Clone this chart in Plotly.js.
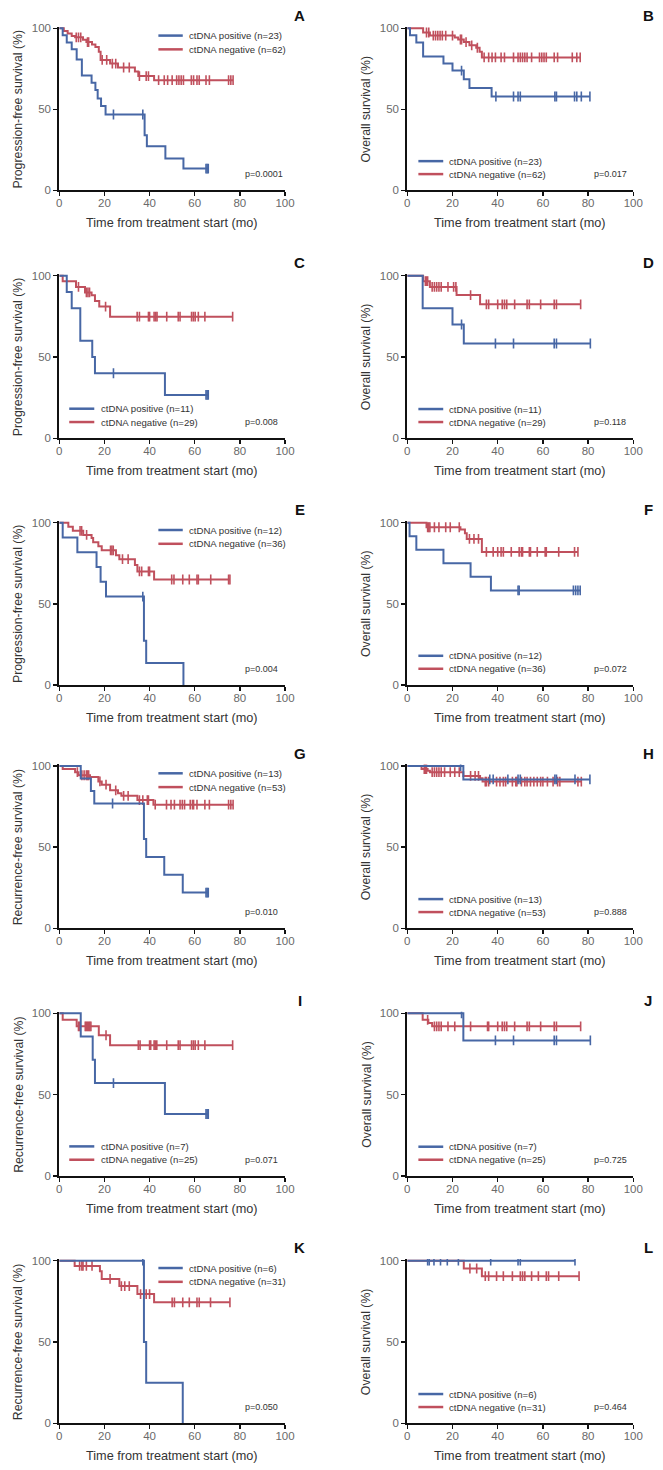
<!DOCTYPE html>
<html>
<head>
<meta charset="utf-8">
<script src="https://cdn.plot.ly/plotly-3.0.1.min.js"></script>
<style>html,body{margin:0;padding:0;background:#fff;}#chart{width:663px;height:1470px;}</style>
</head>
<body>
<div id="chart"></div>
<script>
// ---------- DATA (Kaplan-Meier step times, survival %, censor times) ----------
const panelLetters = ['A','B','C','D','E','F','G','H','I','J','K','L'];
const yTitles = ['Progression-free survival (%)','Overall survival (%)',
  'Progression-free survival (%)','Overall survival (%)',
  'Progression-free survival (%)','Overall survival (%)',
  'Recurrence-free survival (%)','Overall survival (%)',
  'Recurrence-free survival (%)','Overall survival (%)',
  'Recurrence-free survival (%)','Overall survival (%)'];
const xTitle = 'Time from treatment start (mo)';
const posLabels = ['ctDNA positive (n=23)','ctDNA positive (n=23)','ctDNA positive (n=11)','ctDNA positive (n=11)',
  'ctDNA positive (n=12)','ctDNA positive (n=12)','ctDNA positive (n=13)','ctDNA positive (n=13)',
  'ctDNA positive (n=7)','ctDNA positive (n=7)','ctDNA positive (n=6)','ctDNA positive (n=6)'];
const negLabels = ['ctDNA negative (n=62)','ctDNA negative (n=62)','ctDNA negative (n=29)','ctDNA negative (n=29)',
  'ctDNA negative (n=36)','ctDNA negative (n=36)','ctDNA negative (n=53)','ctDNA negative (n=53)',
  'ctDNA negative (n=25)','ctDNA negative (n=25)','ctDNA negative (n=31)','ctDNA negative (n=31)'];
const pValues = ['p=0.0001','p=0.017','p=0.008','p=0.118','p=0.004','p=0.072',
  'p=0.010','p=0.888','p=0.071','p=0.725','p=0.050','p=0.464'];
const xTicks = [0,20,40,60,80,100];
const yTicks = [0,50,100];

const A_pos_t = [0,1.5,3.3,5.5,7.7,10,14.3,16,17,18.5,20.5,37.8,38.8,47,55];
const A_pos_s = [100,95.7,91.3,87,80.8,70.8,66.4,61.9,56.7,52,46.8,34,27.2,19.6,13.4];
const A_pos_c = [24,37,65,65.5,66];
const A_neg_t = [0,2,3.7,5.5,7,10.5,12,14.5,16,17.5,18.3,22.5,26,33.5,35,42];
const A_neg_s = [100,98.4,96.8,95.2,94.4,93,91.5,90,88.5,85.5,80.5,78.2,75.8,73.4,70.5,68];
const A_neg_c = [7.5,8.5,9.5,12.5,13,19,21,23.5,25,28.5,31,35.5,38.5,39.5,44,46.5,48,50,52,53,54,55,58.5,59.5,61,62,65,66.5,75,76,77];

const B_pos_t = [0,1.2,4,7,16,20,25,27.5,37.3];
const B_pos_s = [100,95.7,91.3,82.6,78.3,73.9,68.5,63.2,57.9];
const B_pos_c = [24,39.2,47,49,50,65.3,66,74,75,77,80.8];
const B_neg_t = [0,7,10,21,22.5,25,27.5,30.5,32,33];
const B_neg_s = [100,97.4,95.5,94.3,93.1,91.5,89.5,88,85.5,82];
const B_neg_c = [8.5,9.5,11.5,12.5,13.5,14.5,15.5,17,20,23.5,24,26,28.5,31,34,36,37.5,39,41.5,43,47,49,50,51,52,53,55,58.5,59.5,60.5,61.5,65,66.5,73,75,76.5];

const C_pos_t = [0,3.3,5.5,9.3,14.6,15.8,46.8];
const C_pos_s = [100,90,80,60,50,40,26.7];
const C_pos_c = [24,65,65.5,66];
const C_neg_t = [0,1.5,7.4,11.4,14.3,15.8,17.7,22.5];
const C_neg_s = [100,96.6,93.1,89.7,88,84.5,81,74.8];
const C_neg_c = [8.5,12,12.7,13.4,20.5,34.5,35.5,39.5,40,42,42.7,43.3,47.6,52.7,53.5,58.6,59.4,60.2,61.6,64.5,76.8];

const D_pos_t = [0,6.8,20,25];
const D_pos_s = [100,80,70,58.3];
const D_pos_c = [24,39,47,65,66,81];
const D_neg_t = [0,7,10,21.8,32.2];
const D_neg_s = [100,96.6,93.1,88.1,82.4];
const D_neg_c = [8,8.5,9,11,12,13,14,15,18,20.5,21.5,28,35,36,40,42,43,44,47.5,53,54,59,65,66,76.7];

const E_pos_t = [0,1.5,8,16.5,18.3,20.7,37.5,38.5,55];
const E_pos_s = [100,90.9,81.8,72.7,63.6,54.5,27.3,13.6,0];
const E_pos_c = [37];
const E_neg_t = [0,4,6,10.6,14.3,15,17.3,18.8,25.1,26.6,33.5,34.6,42];
const E_neg_s = [100,97.5,95,92.5,90.5,88,85.5,83,80,77.5,74,70,65];
const E_neg_c = [9.2,9.9,12.1,22.7,23.3,23.9,28,30.5,35.5,36.5,39.5,40,49.8,50.8,54.7,57.6,61,61.6,67.1,75,75.6];

const F_pos_t = [0,1,4,16,28,37];
const F_pos_s = [100,91.7,83.3,75,66.7,58.3];
const F_pos_c = [49,49.5,73.5,74.5,75.5,76.5];
const F_neg_t = [0,8.5,23.5,25.5,26.3,33];
const F_neg_s = [100,97.2,95.8,93.5,90,82];
const F_neg_c = [9,9.5,10,12,14,17,19,23,27.5,29.5,31.5,35,38,40,41.5,42.5,46,49.5,50.5,51,54,54.5,57.5,61,61.5,67,74,75.5];

const G_pos_t = [0,9.5,14,15.5,37.5,38.5,46.5,54.7];
const G_pos_s = [100,92.3,84.6,76.9,55,44,33,22];
const G_pos_c = [23.6,65,65.5,66];
const G_neg_t = [0,1.5,7,8.5,13.6,17.3,18.8,22.5,26,27.5,34.6,41.7];
const G_neg_s = [100,98.1,96.2,94.3,93.3,90.5,88.5,85,83.2,81.6,79,76.2];
const G_neg_c = [8,10,11,12,12.5,13,18,20.7,25,28.5,30.5,35.5,37,39,39.5,42.5,47.5,49.5,51,53.5,54.5,55.5,58,59,59.5,61,64.5,66.5,75,76,77];

const H_pos_t = [0,24.8];
const H_pos_s = [100,91.7];
const H_pos_c = [23.6,36.5,38,44.5,49,50,65.3,66,74.2,80.8];
const H_neg_t = [0,6.3,9,10,24.8,32.2,33.3];
const H_neg_s = [100,98.1,97.1,96.2,93.9,92.5,90.4];
const H_neg_c = [7.5,8,8.5,11,12,13,14,15,16.5,19,21,23,28,30,31.5,34.5,35,36,39.5,41,42.5,43.5,46.5,48,48.5,50.5,52,53,54.5,56,57.5,59,60,62,64.5,66.5,67.5,75.5,77];

const I_pos_t = [0,9.5,14.8,15.8,46.8];
const I_pos_s = [100,85.7,71.4,57.1,38.1];
const I_pos_c = [24,65,65.5,66];
const I_neg_t = [0,1.5,7.7,17.5,22.5];
const I_neg_s = [100,96,92,86.5,80.4];
const I_neg_c = [8.5,9,11.5,12,12.5,13,13.5,14,20.7,35,35.8,40,40.5,42,42.5,43.2,47.6,52.7,53.5,58.6,59.4,60.2,61.6,64.5,76.8];

const J_pos_t = [0,24.8];
const J_pos_s = [100,83.3];
const J_pos_c = [24,39,47,65,66,81];
const J_neg_t = [0,6.8,9.3,11];
const J_neg_s = [100,96,94,92];
const J_neg_c = [9,12,13,14,15,18,21,28,35.5,36,40,42,43,44,47.5,53,54,59,65,66,76.7];

const K_pos_t = [0,37.5,38.5,54.7];
const K_pos_s = [100,50,25,0];
const K_pos_c = [37];
const K_neg_t = [0,6.8,18,18.8,26.6,34.6,42];
const K_neg_s = [100,96.8,93.5,88.8,84.4,79.5,74.4];
const K_neg_c = [9,10,10.5,12,14.5,22.5,27.5,29,31,36,38.5,40,50,51,54.7,57.6,61,62,67,75.6];

const L_pos_t = [0];
const L_pos_s = [100];
const L_pos_c = [9,9.7,11.8,14.7,17.7,22.6,36.9,49,50,74.2];
const L_neg_t = [0,25,33];
const L_neg_s = [100,95.2,90.5];
const L_neg_c = [27.7,30.7,34.5,36,39.5,42.5,46.5,50,51,52,55,58,61.5,62.5,67,76];

const curves = [
  [A_pos_t,A_pos_s,A_pos_c,A_neg_t,A_neg_s,A_neg_c],
  [B_pos_t,B_pos_s,B_pos_c,B_neg_t,B_neg_s,B_neg_c],
  [C_pos_t,C_pos_s,C_pos_c,C_neg_t,C_neg_s,C_neg_c],
  [D_pos_t,D_pos_s,D_pos_c,D_neg_t,D_neg_s,D_neg_c],
  [E_pos_t,E_pos_s,E_pos_c,E_neg_t,E_neg_s,E_neg_c],
  [F_pos_t,F_pos_s,F_pos_c,F_neg_t,F_neg_s,F_neg_c],
  [G_pos_t,G_pos_s,G_pos_c,G_neg_t,G_neg_s,G_neg_c],
  [H_pos_t,H_pos_s,H_pos_c,H_neg_t,H_neg_s,H_neg_c],
  [I_pos_t,I_pos_s,I_pos_c,I_neg_t,I_neg_s,I_neg_c],
  [J_pos_t,J_pos_s,J_pos_c,J_neg_t,J_neg_s,J_neg_c],
  [K_pos_t,K_pos_s,K_pos_c,K_neg_t,K_neg_s,K_neg_c],
  [L_pos_t,L_pos_s,L_pos_c,L_neg_t,L_neg_s,L_neg_c]
];

// ---------- LAYOUT / STYLE ----------
const W = 663, H = 1470, YMAX = 101;
const BLUE = '#4767a5', RED = '#c0505d';
const FONT = '"Liberation Sans", Arial, sans-serif';
const rowsPx = [[28.3,190.3],[275.7,438.3],[522.7,685],[766,928.3],[1013.3,1176],[1260.7,1423.3]];
const colsPx = [[59.3,285],[407.3,633.3]];
const legendPos = ['top','bot','botL','bot','top','bot','top','bot','botL','bot','top','bot'];

function survAt(t, s, time) {
  let v = s[0];
  for (let i = 0; i < t.length; i++) if (t[i] <= time) v = s[i];
  return v;
}

const data = [];
const layout = {
  width: W, height: H,
  margin: {l:0, r:0, t:0, b:0},
  paper_bgcolor: '#fff', plot_bgcolor: '#fff',
  showlegend: false,
  font: {family: FONT, size: 12, color: '#333'},
  annotations: [], shapes: []
};

const fy = v => v / YMAX;
const fx = v => v / 100;

for (let p = 0; p < 12; p++) {
  const row = Math.floor(p / 2), col = p % 2;
  const n = p + 1;
  const xa = 'x' + (n === 1 ? '' : n), ya = 'y' + (n === 1 ? '' : n);
  const xk = 'xaxis' + (n === 1 ? '' : n), yk = 'yaxis' + (n === 1 ? '' : n);
  const [top100, bot] = rowsPx[row];
  const topPx = top100 - (bot - top100) * (YMAX - 100) / 100;
  const [l, r] = colsPx[col];
  const axisCommon = {
    showgrid: false, zeroline: false, showline: true, linecolor: '#111', linewidth: 2,
    ticks: 'outside', ticklen: 4, tickwidth: 1.5, tickcolor: '#111',
    tickfont: {family: FONT, size: 11.5, color: '#6a6a6a'}, fixedrange: true
  };
  layout[xk] = Object.assign({}, axisCommon, {
    domain: [l / W, r / W], range: [0, 100], anchor: ya,
    tickmode: 'array', tickvals: xTicks, ticktext: xTicks.map(String),
    ticklabelstandoff: -3
  });
  layout[yk] = Object.assign({}, axisCommon, {
    domain: [1 - bot / H, 1 - topPx / H], range: [0, YMAX], anchor: xa,
    tickmode: 'array', tickvals: yTicks, ticktext: yTicks.map(String)
  });

  const [pt, ps, pc, nt, ns, nc] = curves[p];
  const series = [[nt, ns, nc, RED], [pt, ps, pc, BLUE]];
  series.forEach(([t, s, c, color]) => {
    const end = Math.max(t[t.length - 1], ...c);
    data.push({
      type: 'scatter', mode: 'lines', xaxis: xa, yaxis: ya,
      x: t.concat([end]), y: s.concat([s[s.length - 1]]),
      line: {shape: 'hv', color: color, width: 2}, hoverinfo: 'skip'
    });
    data.push({
      type: 'scatter', mode: 'markers', xaxis: xa, yaxis: ya,
      x: c, y: c.map(tt => survAt(t, s, tt)),
      marker: {symbol: 'line-ns-open', size: 7, color: color, line: {color: color, width: 1.6}},
      hoverinfo: 'skip'
    });
  });

  const xd = xa + ' domain', yd = ya + ' domain';
  let lx0, lx1, tx, yPos, yNeg;
  if (legendPos[p] === 'top') { lx0 = 43.9; lx1 = 54.7; tx = 56.7; yPos = 95.5; yNeg = 87; }
  else if (legendPos[p] === 'botL') { lx0 = 4.4; lx1 = 15.5; tx = 17.6; yPos = 18.2; yNeg = 10; }
  else { lx0 = 4.9; lx1 = 15.9; tx = 17.7; yPos = 18; yNeg = 10; }
  [[yPos, BLUE, posLabels[p]], [yNeg, RED, negLabels[p]]].forEach(([yy, color, label]) => {
    layout.shapes.push({type: 'line', xref: xd, yref: yd, x0: fx(lx0), x1: fx(lx1), y0: fy(yy), y1: fy(yy),
      line: {color: color, width: 2.5}});
    layout.annotations.push({xref: xd, yref: yd, x: fx(tx), y: fy(yy), xanchor: 'left', yanchor: 'middle',
      text: label, showarrow: false, font: {family: FONT, size: 9.6, color: '#333'}});
  });
  layout.annotations.push({xref: xd, yref: yd, x: fx(81.6), y: fy(9.9), xanchor: 'left', yanchor: 'middle',
    text: pValues[p], showarrow: false, font: {family: FONT, size: 9, color: '#333'}});
  layout.annotations.push({xref: xd, yref: yd, x: fx(106.6), y: fy(108), xanchor: 'center', yanchor: 'middle',
    text: '<b>' + panelLetters[p] + '</b>', showarrow: false,
    font: {family: FONT, size: 15, color: '#111'}});
  layout.annotations.push({xref: xd, yref: yd, x: fx(-18.2), y: fy(50), xanchor: 'center', yanchor: 'middle',
    textangle: -90, text: yTitles[p], showarrow: false, font: {family: FONT, size: 12.3, color: '#333'}});
  layout.annotations.push({xref: xd, yref: yd, x: 0.5, y: fy(-20.3), xanchor: 'center', yanchor: 'middle',
    text: xTitle, showarrow: false, font: {family: FONT, size: 12.7, color: '#333'}});
}

Plotly.newPlot('chart', data, layout, {staticPlot: true, displayModeBar: false});
</script>
</body>
</html>
